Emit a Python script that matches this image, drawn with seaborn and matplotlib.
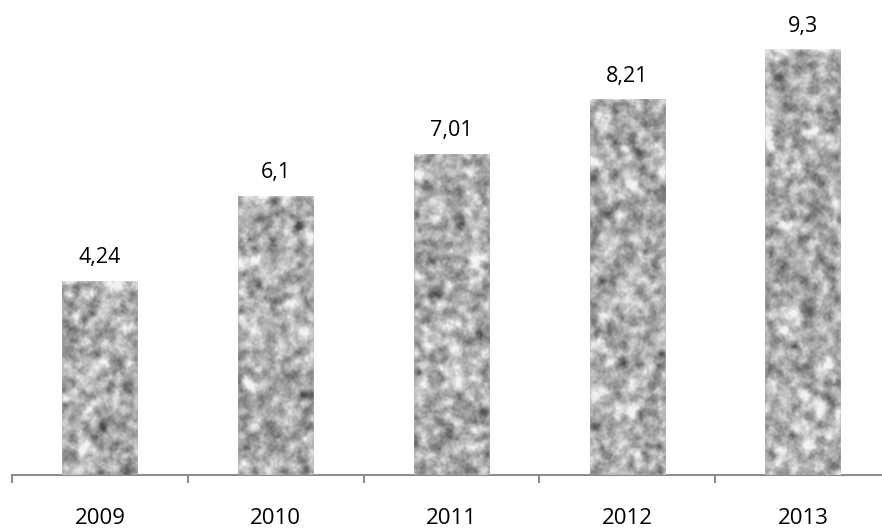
import numpy as np
import pandas as pd
import matplotlib
matplotlib.use("Agg")
import matplotlib.pyplot as plt
import seaborn as sns

years = ["2009", "2010", "2011", "2012", "2013"]
values = [4.24, 6.1, 7.01, 8.21, 9.3]
value_labels = ["4,24", "6,1", "7,01", "8,21", "9,3"]

sns.set_theme(style="white")
plt.rcParams["font.family"] = ["Open Sans", "DejaVu Sans"]

df = pd.DataFrame({"year": years, "value": values})

W, H, DPI = 882, 531, 100
fig = plt.figure(figsize=(W / DPI, H / DPI), dpi=DPI)
ax = fig.add_axes([12 / W, 56 / H, 879 / W, 475 / H])

sns.barplot(data=df, x="year", y="value", color="#a8a8a8", width=0.43,
            saturation=1, ax=ax, zorder=2)

ax.set_xlim(-0.5, 4.5)
ax.set_ylim(0, 10.37)


def smooth(a, passes):
    k = np.array([1, 4, 6, 4, 1], float)
    k /= k.sum()
    for _ in range(passes):
        a = np.apply_along_axis(lambda r: np.convolve(r, k, mode="same"), 1, a)
        a = np.apply_along_axis(lambda c: np.convolve(c, k, mode="same"), 0, a)
    return a


def granite(h, w, rng):
    """Blotchy grey stone texture: coarse blobs plus a little fine grain."""
    coarse = smooth(rng.normal(size=(h // 2 + 6, w // 2 + 6)), 2)
    coarse = np.kron(coarse, np.ones((2, 2)))[3:3 + h, 3:3 + w]
    coarse = smooth(coarse, 1)
    coarse = (coarse - coarse.mean()) / coarse.std()
    fine = smooth(rng.normal(size=(h, w)), 1)
    fine = (fine - fine.mean()) / fine.std()
    img = 0.68 + 0.10 * coarse + 0.035 * fine
    # lighter rim along the top edge
    rim = np.exp(-np.arange(h) / 4.0)[:, None]
    img = img + 0.15 * rim
    return np.clip(img, 0.3, 0.95)


rng = np.random.default_rng(11)
for patch in ax.patches:
    x0, y0 = patch.get_x(), patch.get_y()
    pw, ph = patch.get_width(), patch.get_height()
    px_h = int(ph * 475 / 10.37) + 2
    px_w = 76
    tex = granite(px_h, px_w, rng)
    im = ax.imshow(tex, cmap="gray", vmin=0, vmax=1, aspect="auto",
                   extent=(x0, x0 + pw, y0, y0 + ph), zorder=3,
                   interpolation="bilinear")
    im.set_clip_path(patch)

for i, (v, lab) in enumerate(zip(values, value_labels)):
    ax.annotate(lab, (i, v), xytext=(0, 16.5), textcoords="offset points",
                ha="center", va="center", fontsize=15.5, color="#000000")

for s in ["top", "right", "left"]:
    ax.spines[s].set_visible(False)
ax.spines["bottom"].set_color("#8c8c8c")
ax.spines["bottom"].set_linewidth(1.5)
ax.set_yticks([])
ax.set_xlabel("")
ax.set_ylabel("")

ax.set_xticks(range(len(years)))
ax.set_xticklabels(years, fontsize=16, color="#000000")
ax.set_xticks(np.arange(-0.5, 5, 1.0), minor=True)
ax.tick_params(axis="x", which="major", bottom=False, length=0, pad=24)
ax.tick_params(axis="x", which="minor", bottom=True, length=6, width=1.5,
               color="#8c8c8c", direction="out")

fig.savefig("out.png", dpi=DPI, facecolor="white")
